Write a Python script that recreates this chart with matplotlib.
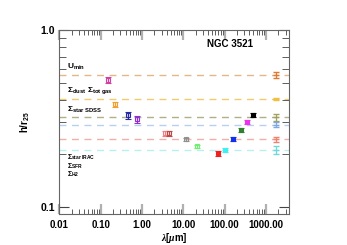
import numpy as np
import matplotlib
matplotlib.use('Agg')
import matplotlib.pyplot as plt
from matplotlib.ticker import LogLocator, FixedLocator, NullFormatter

plt.rcParams['font.family'] = 'Liberation Sans'
plt.rcParams['font.weight'] = 'bold'
plt.rcParams['mathtext.fontset'] = 'custom'
plt.rcParams['mathtext.rm'] = 'Liberation Sans:bold'
plt.rcParams['mathtext.bf'] = 'Liberation Sans:bold'
plt.rcParams['mathtext.it'] = 'Liberation Serif:italic'

#-------------------------------------------------------------------
# band measurements
wavelength = [0.153, 0.227, 0.47, 0.75, 3.6, 4.5, 11.6, 22, 70, 100, 160, 250, 350, 500]
h_r25 = [0.521, 0.381, 0.330, 0.312, 0.260, 0.260, 0.241, 0.220, 0.2005, 0.2094, 0.2406, 0.272, 0.300, 0.330]
h_err = [0.022, 0.012, 0.015, 0.014, 0.008, 0.008, 0.005, 0.005, 0.006, 0.006, 0.006, 0.006, 0.008, 0.008]
band_colors = ['#d040a0', '#f0a030', '#2828a0', '#9030d0', '#f08080', '#c04848', '#909090',
               '#70f070', '#f02020', '#40f0f0', '#1030f0', '#308030', '#f030f0', '#000000']
open_marker = [True, True, True, True, True, True, True, True, False, False, False, False, False, False]

# derived quantities (dashed lines + bars on the right)
derived_x = 1800
derived_h = [0.556, 0.407, 0.321, 0.291, 0.2406, 0.2094]
derived_err = [0.024, 0.005, 0.014, 0.010, 0.009, 0.010]
line_colors = ['#e2b888', '#f0cc70', '#b0b088', '#b8d0f0', '#f0b0a8', '#b8f0f0']
bar_colors = ['#e07830', '#f0c040', '#a0a060', '#80a8e0', '#f08070', '#70d8d8']

xticks = [0.01, 0.1, 1, 10, 100, 1000]
xticklabels = ['0.01', '0.10', '1.00', '10.00', '100.00', '1000.00']

#-------------------------------------------------------------------
fig = plt.figure(figsize=(3.47, 2.45), dpi=100)
ax = fig.add_axes([0.1712, 0.1265, 0.6617, 0.7511])
ax.set_xscale('log')
ax.set_yscale('log')
ax.set_xlim(0.01, 3650)
ax.set_ylim(0.091, 1.0)

for yv, c in zip(derived_h, line_colors):
    ax.axhline(yv, color=c, lw=1.0, dashes=(5, 4), zorder=1)

for x, y, e, c, op in zip(wavelength, h_r25, h_err, band_colors, open_marker):
    ax.errorbar(x, y, yerr=e, fmt='s', color=c, ms=2.6, mfc='none' if op else c, mec=c,
                mew=0.8, capsize=2.4, elinewidth=1.0, capthick=1.0, zorder=3)

for y, e, c in zip(derived_h, derived_err, bar_colors):
    ax.errorbar(derived_x, y, yerr=e, fmt='_', color=c, ms=4,
                capsize=2.5, elinewidth=0.9, capthick=1.0, zorder=3)

# ticks
ax.xaxis.set_major_locator(FixedLocator(xticks))
ax.set_xticklabels(xticklabels)
ax.xaxis.set_minor_locator(LogLocator(base=10, subs=np.arange(2, 10), numticks=20))
ax.xaxis.set_minor_formatter(NullFormatter())
ax.yaxis.set_major_locator(FixedLocator([0.1, 1.0]))
ax.set_yticklabels(['0.1', '1.0'])
ax.yaxis.set_minor_locator(LogLocator(base=10, subs=np.arange(2, 10), numticks=20))
ax.yaxis.set_minor_formatter(NullFormatter())

ax.tick_params(axis='x', which='major', direction='in', top=True, length=7, width=1.6,
               color='#b0b0b0', labelsize=7, pad=4)
ax.tick_params(axis='x', which='minor', direction='in', top=True, length=3.5, width=0.6, color='#444444')
ax.tick_params(axis='y', which='major', direction='in', right=True, length=7, width=0.8,
               color='#444444', labelsize=7.5, pad=3)
ax.tick_params(axis='y', which='minor', direction='in', right=True, length=5, width=0.6, color='#444444')
for lab in ax.get_xticklabels() + ax.get_yticklabels():
    lab.set_fontweight('bold')
for s in ax.spines.values():
    s.set_color('#666666')
    s.set_linewidth(0.8)

ax.set_xlabel(r'$\lambda$[$\mu$m]', fontsize=7, fontweight='bold', labelpad=1)
ax.set_ylabel(r'h/r$_{25}$', fontsize=7, fontweight='bold', labelpad=6)

ax.text(0.743, 0.924, 'NGC 3521', transform=ax.transAxes, ha='center', va='center',
        fontsize=7, fontweight='bold')

# labels for derived quantities
lab_kw = dict(transform=ax.transAxes, ha='left', va='center', fontweight='bold')
ax.text(0.033, 0.80, r'U$_{\rm min}$', fontsize=6, **lab_kw)
ax.text(0.033, 0.67, r'$\Sigma_{\rm dust}$', fontsize=6, **lab_kw)
ax.text(0.119, 0.67, r'$\Sigma_{\rm tot\ gas}$', fontsize=6, **lab_kw)
ax.text(0.033, 0.565, r'$\Sigma_{\rm star\ SDSS}$', fontsize=6, **lab_kw)
ax.text(0.033, 0.308, r'$\Sigma_{\rm star\ IRAC}$', fontsize=5, **lab_kw)
ax.text(0.033, 0.2625, r'$\Sigma_{\rm SFR}$', fontsize=5, **lab_kw)
ax.text(0.033, 0.216, r'$\Sigma_{\rm H2}$', fontsize=5, **lab_kw)

fig.savefig('out.png', dpi=100)
